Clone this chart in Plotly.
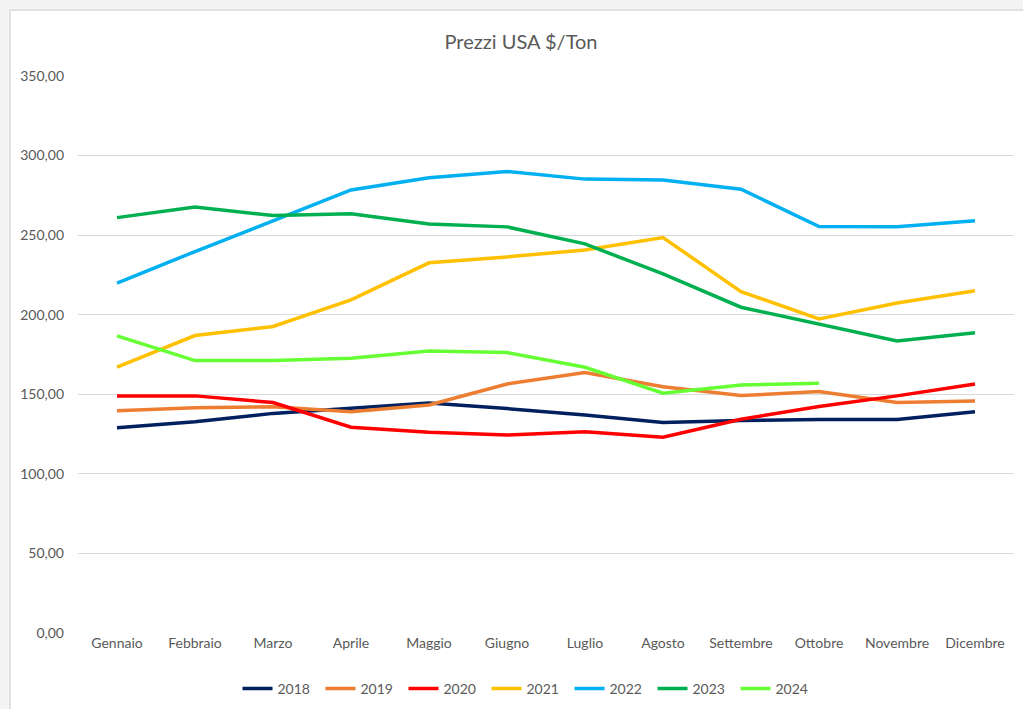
import plotly.graph_objects as go

months = ["Gennaio", "Febbraio", "Marzo", "Aprile", "Maggio", "Giugno",
          "Luglio", "Agosto", "Settembre", "Ottobre", "Novembre", "Dicembre"]

y2018 = [129.0, 132.8, 138.0, 141.2, 144.6, 141.0, 137.0, 132.2, 133.5, 134.2, 134.2, 139.0]
y2019 = [139.6, 141.5, 142.2, 139.1, 143.3, 156.5, 163.6, 154.8, 149.2, 151.7, 144.8, 145.8]
y2020 = [149.0, 149.0, 144.8, 129.3, 126.2, 124.4, 126.5, 123.0, 134.3, 142.3, 149.0, 156.5]
y2021 = [167.0, 186.9, 192.6, 209.3, 232.6, 236.3, 240.7, 248.5, 214.5, 197.4, 207.4, 215.0]
y2022 = [219.8, 239.7, 259.0, 278.4, 286.0, 290.0, 285.2, 284.7, 278.9, 255.4, 255.3, 259.0]
y2023 = [261.0, 267.6, 262.3, 263.4, 257.0, 255.2, 244.5, 225.6, 204.7, 194.2, 183.5, 188.6]
y2024 = [186.7, 171.2, 171.2, 172.7, 177.2, 176.2, 167.0, 150.7, 155.9, 157.0, None, None]

series = [
    ("2018", y2018, "#002060"),
    ("2019", y2019, "#ED7D31"),
    ("2020", y2020, "#FF0000"),
    ("2021", y2021, "#FFC000"),
    ("2022", y2022, "#00B0F0"),
    ("2023", y2023, "#00B050"),
    ("2024", y2024, "#66FF33"),
]

fig = go.Figure()
for name, vals, color in series:
    fig.add_trace(go.Scatter(
        x=months, y=vals, name=name, mode="lines",
        line=dict(color=color, width=3.5),
        connectgaps=False,
    ))

font_family = "Lato, 'Open Sans', sans-serif"
fig.update_layout(
    width=1023, height=709,
    margin=dict(l=78, r=9, t=76, b=76, autoexpand=False),
    paper_bgcolor="#f4f4f4",
    plot_bgcolor="white",
    separators=",.",
    font=dict(family=font_family, color="#595959", size=14),
    title=dict(text="Prezzi USA $/Ton", x=521 / 1023, xanchor="center",
               y=1 - 42 / 709, yanchor="middle",
               font=dict(size=20, color="#595959", family=font_family)),
    xaxis=dict(showgrid=False, showline=False, zeroline=False,
               tickfont=dict(size=14, color="#595959"), ticks="",
               range=[-0.5, 11.5]),
    yaxis=dict(range=[0, 350], dtick=50, tickformat=".2f",
               gridcolor="#d9d9d9", gridwidth=1.3, zeroline=False,
               showline=False, tickfont=dict(size=14, color="#595959"),
               ticks="", ticklabelstandoff=13),
    legend=dict(orientation="h", x=(528 - 78) / 936, xanchor="center",
                y=-56 / 557, yanchor="middle",
                font=dict(size=14, color="#595959"),
                itemwidth=30, entrywidth=38, entrywidthmode="pixels",
                tracegroupgap=0, bgcolor="rgba(0,0,0,0)"),
    showlegend=True,
)

# white chart area on light frame
fig.add_shape(type="rect", xref="paper", yref="paper",
              x0=(10 - 78) / 936, x1=(1030 - 78) / 936,
              y0=(633 - 715) / 557, y1=(633 - 10) / 557,
              fillcolor="white", line=dict(color="#d9d9d9", width=1.5),
              layer="below")

fig.write_html("out.html", config={"displayModeBar": False},
               post_script="document.body.style.margin='0';document.body.style.padding='0';")
